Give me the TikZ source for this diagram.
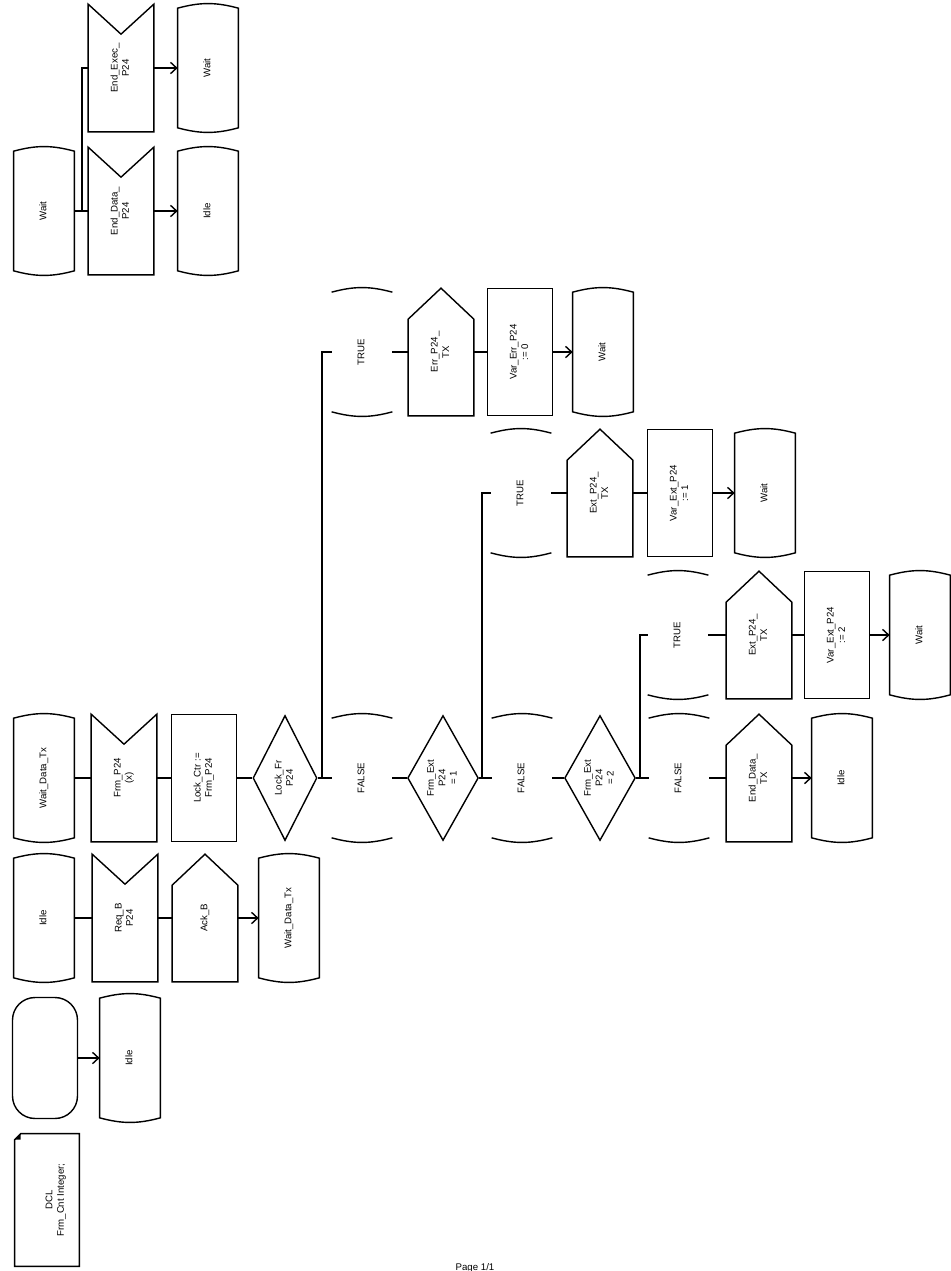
\documentclass[tikz,border=0pt]{standalone}
\usepackage{graphicx,fontspec}
\setmainfont{Liberation Sans}
\usetikzlibrary{positioning,arrows.meta,shapes.geometric,calc}
\newcommand{\vtxt}[1]{\rotatebox{90}{\begin{tabular}{@{}c@{}}#1\end{tabular}}}

\begin{document}
\begin{tikzpicture}[x=0.02cm, y=0.02cm,
base/.style={inner sep=1pt, font=\fontsize{5.5}{6.5}\selectfont},
shp/.style={draw, line width=0.8pt},
state/.style={base, minimum width=1.2cm, minimum height=2.38cm,
  append after command={\pgfextra{\draw[shp]
  (\tikzlastnode.south west) -- (\tikzlastnode.north west)
  to[bend left=15] (\tikzlastnode.north east) -- (\tikzlastnode.south east)
  to[bend left=15] (\tikzlastnode.south west) -- cycle;}}},
answer/.style={base, minimum width=1.2cm, minimum height=2.38cm,
  append after command={\pgfextra{
  \draw[shp] (\tikzlastnode.north west) to[bend left=15] (\tikzlastnode.north east);
  \draw[shp] (\tikzlastnode.south east) to[bend left=15] (\tikzlastnode.south west);}}},
input/.style={base, minimum width=1.3cm, minimum height=2.54cm,
  append after command={\pgfextra{\draw[shp]
  (\tikzlastnode.north west) -- ($(\tikzlastnode.north)+(0,-30)$) -- (\tikzlastnode.north east)
  -- (\tikzlastnode.south east) -- (\tikzlastnode.south west) -- cycle;}}},
output/.style={base, minimum width=1.3cm, minimum height=2.54cm,
  append after command={\pgfextra{\draw[shp]
  (\tikzlastnode.south west) -- ($(\tikzlastnode.north west)+(0,-31)$) -- (\tikzlastnode.north)
  -- ($(\tikzlastnode.north east)+(0,-31)$) -- (\tikzlastnode.south east) -- cycle;}}},
task/.style={base, shp, minimum width=1.3cm, minimum height=2.54cm},
decision/.style={base, shp, diamond, inner sep=0pt, minimum width=1.28cm, minimum height=2.5cm},
start/.style={base, shp, rounded corners=0.45cm, minimum width=1.3cm, minimum height=2.42cm},
note/.style={base, minimum width=1.28cm, minimum height=2.64cm,
  append after command={\pgfextra{\draw[shp]
  (\tikzlastnode.south west) -- ($(\tikzlastnode.north west)+(0,-6)$) -- ($(\tikzlastnode.north west)+(6,0)$)
  -- (\tikzlastnode.north east) -- (\tikzlastnode.south east) -- cycle;
  \fill ($(\tikzlastnode.north west)+(0,-6)$) -- ($(\tikzlastnode.north west)+(6,0)$) -- ($(\tikzlastnode.north west)+(6,-6)$) -- cycle;}}},
link/.style={line width=0.8pt},
flow/.style={line width=0.8pt, -{Straight Barb[length=3.5pt,width=6.5pt]}}]
\useasboundingbox (0,0) rectangle (950,-1271);
% process Wait
\node[state] (wtA) at (44,-211) {\vtxt{Wait}};
\node[input] (inA1) at (121,-68) {\vtxt{End\_Exec\_\\P24}};
\node[input] (inA2) at (121,-211) {\vtxt{End\_Data\_\\P24}};
\node[state] (wtA1) at (208,-68) {\vtxt{Wait}};
\node[state] (idA2) at (208,-211) {\vtxt{Idle}};
\coordinate (jA) at (82,-211);
\draw[link] (wtA)--(inA2); \draw[link] (jA) |- (inA1);
\draw[flow] (inA1)--(wtA1); \draw[flow] (inA2)--(idA2);
% start
\node[start] (st0) at (45,-1058) {};
\node[state] (id0) at (130,-1058) {\vtxt{Idle}};
\node[note] (dcl) at (47,-1200) {\hspace*{10pt}\vtxt{DCL\\Frm\_Cnt Integer;}};
\draw[flow] (st0)--(id0);
% state Idle
\node[state] (idB) at (44,-918) {\vtxt{Idle}};
\node[input] (inB) at (125,-918) {\vtxt{Req\_B\\P24}};
\node[output] (ouB) at (205,-918) {\vtxt{Ack\_B}};
\node[state] (txB) at (289,-918) {\vtxt{Wait\_Data\_Tx}};
\draw[link] (idB)--(inB); \draw[link] (inB)--(ouB); \draw[flow] (ouB)--(txB);
% state Wait_Data_Tx
\node[state] (txC) at (44,-778) {\vtxt{Wait\_Data\_Tx}};
\node[input] (inC) at (124,-778) {\vtxt{Frm\_P24\\(x)}};
\node[task] (tkC) at (204,-778) {\vtxt{Lock\_Ctr :=\\Frm\_P24}};
\node[decision] (dc1) at (285,-778) {\vtxt{Lock\_Fr\\P24}};
\coordinate (j1) at (322,-778);
\node[answer] (fa1) at (362,-778) {\vtxt{FALSE}};
\node[decision] (dc2) at (443,-778) {\vtxt{Frm\_Ext\\P24\\= 1}};
\coordinate (j2) at (482,-778);
\node[answer] (fa2) at (522,-778) {\vtxt{FALSE}};
\node[decision] (dc3) at (600,-778) {\vtxt{Frm\_Ext\\P24\\= 2}};
\coordinate (j3) at (640,-778);
\node[answer] (fa3) at (679,-778) {\vtxt{FALSE}};
\node[output] (ou3) at (759,-778) {\vtxt{End\_Data\_\\TX}};
\node[state] (id3) at (842,-778) {\vtxt{Idle}};
\draw[link] (txC)--(inC); \draw[link] (inC)--(tkC); \draw[link] (tkC)--(dc1);
\draw[link] (dc1)--(fa1); \draw[link] (fa1)--(dc2); \draw[link] (dc2)--(fa2);
\draw[link] (fa2)--(dc3); \draw[link] (dc3)--(fa3); \draw[link] (fa3)--(ou3);
\draw[flow] (ou3)--(id3);
% TRUE branches
\node[answer] (tr1) at (362,-352) {\vtxt{TRUE}};
\node[output] (ou1) at (441,-352) {\vtxt{Err\_P24\_\\TX}};
\node[task] (tk1) at (520,-352) {\vtxt{Var\_Err\_P24\\:= 0}};
\node[state] (wt1) at (603,-352) {\vtxt{Wait}};
\node[answer] (tr2) at (521,-493) {\vtxt{TRUE}};
\node[output] (ou2) at (600,-493) {\vtxt{Ext\_P24\_\\TX}};
\node[task] (tk2) at (680,-493) {\vtxt{Var\_Ext\_P24\\:= 1}};
\node[state] (wt2) at (765,-493) {\vtxt{Wait}};
\node[answer] (tr3) at (678,-635) {\vtxt{TRUE}};
\node[output] (ou3t) at (759,-635) {\vtxt{Ext\_P24\_\\TX}};
\node[task] (tk3) at (837,-635) {\vtxt{Var\_Ext\_P24\\:= 2}};
\node[state] (wt3) at (920,-635) {\vtxt{Wait}};
\draw[link] (j1) |- (tr1); \draw[link] (tr1)--(ou1); \draw[link] (ou1)--(tk1); \draw[flow] (tk1)--(wt1);
\draw[link] (j2) |- (tr2); \draw[link] (tr2)--(ou2); \draw[link] (ou2)--(tk2); \draw[flow] (tk2)--(wt2);
\draw[link] (j3) |- (tr3); \draw[link] (tr3)--(ou3t); \draw[link] (ou3t)--(tk3); \draw[flow] (tk3)--(wt3);
\node[base] (pg) at (475,-1268) {Page 1/1};
\end{tikzpicture}
\end{document}
